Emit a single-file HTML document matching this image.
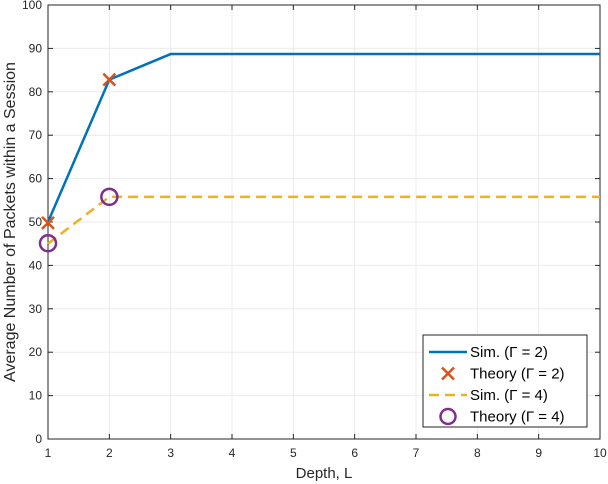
<!DOCTYPE html>
<html><head><style>
body{margin:0;background:#fff;}
svg{display:block;font-family:"Liberation Sans",sans-serif;}
</style></head><body>
<svg id="c" width="608" height="484">
<g id="grid"></g><g id="axes"></g><g id="series"></g><g id="legend"></g>
</svg>
<script>
const depths=[1,2,3,4,5,6,7,8,9,10];
const simG2=[50,82.8,88.7,88.7,88.7,88.7,88.7,88.7,88.7,88.7];
const simG4=[45,55.8,55.8,55.8,55.8,55.8,55.8,55.8,55.8,55.8];
const theoryX=[1,2];
const theoryG2=[49.8,82.8];
const theoryG4=[45.1,55.8];
const xTicks=[1,2,3,4,5,6,7,8,9,10];
const yTicks=[0,10,20,30,40,50,60,70,80,90,100];
const L=48,R=600,T=5,B=439;
const sx=v=>L+(v-1)*(R-L)/9;
const sy=v=>B-v*(B-T)/100;
const NS="http://www.w3.org/2000/svg";
function mk(p,t,a){const e=document.createElementNS(NS,t);for(const k in a)e.setAttribute(k,a[k]);p.appendChild(e);return e;}
const g=document.getElementById('grid'),ax=document.getElementById('axes'),s=document.getElementById('series'),lg=document.getElementById('legend');
xTicks.forEach(v=>{const l=mk(g,'line',{x1:sx(v),x2:sx(v),y1:T,y2:B,stroke:'#ebebeb'});

mk(ax,'line',{x1:sx(v),x2:sx(v),y1:B,y2:B-5,stroke:'#262626'});mk(ax,'line',{x1:sx(v),x2:sx(v),y1:T,y2:T+5,stroke:'#262626'});
const t=mk(ax,'text',{x:sx(v),y:B+18,'text-anchor':'middle','font-size':12,fill:'#262626'});t.textContent=v;
});
yTicks.forEach(v=>{const l=mk(g,'line',{x1:L,x2:R,y1:sy(v),y2:sy(v),stroke:'#ebebeb'});

mk(ax,'line',{x1:L,x2:L+5,y1:sy(v),y2:sy(v),stroke:'#262626'});mk(ax,'line',{x1:R,x2:R-5,y1:sy(v),y2:sy(v),stroke:'#262626'});
const t=mk(ax,'text',{x:L-6,y:sy(v)+4,'text-anchor':'end','font-size':12,fill:'#262626'});t.textContent=v;
});
mk(ax,'rect',{x:L,y:T,width:R-L,height:B-T,fill:'none',stroke:'#262626'});
const xt=mk(ax,'text',{x:(L+R)/2,y:478,'text-anchor':'middle','font-size':15,fill:'#262626'});xt.textContent='Depth, L';

const yt=mk(ax,'text',{x:0,y:0,transform:`translate(15,${(T+B)/2}) rotate(-90)`,'text-anchor':'middle','font-size':16,fill:'#262626'});yt.textContent='Average Number of Packets within a Session';

const p2=mk(s,'polyline',{points:depths.map((d,i)=>sx(d)+','+sy(simG2[i])).join(' '),fill:'none',stroke:'#0072bd','stroke-width':2.5});

const p4=mk(s,'polyline',{points:depths.map((d,i)=>sx(d)+','+sy(simG4[i])).join(' '),fill:'none',stroke:'#edb120','stroke-width':2.5,'stroke-dasharray':'10,6'});

function cross(p,x,y){const e=mk(p,'path',{d:`M${x-6},${y-6}L${x+6},${y+6}M${x-6},${y+6}L${x+6},${y-6}`,stroke:'#d95319','stroke-width':2.5});return e;}
theoryX.forEach((d,i)=>{const e=cross(s,sx(d),sy(theoryG2[i]));
const c=mk(s,'circle',{cx:sx(d),cy:sy(theoryG4[i]),r:8,fill:'none',stroke:'#7e2f8e','stroke-width':2.5});
});
const lr=mk(lg,'rect',{x:423,y:335,width:164,height:92,fill:'#fff',stroke:'#262626'});

const labels=['Sim. (Γ = 2)','Theory (Γ = 2)','Sim. (Γ = 4)','Theory (Γ = 4)'];
labels.forEach((lab,i)=>{const y=352+i*21.5;
if(i==0)mk(lg,'line',{x1:429,x2:467,y1:y,y2:y,stroke:'#0072bd','stroke-width':2.5});
if(i==1)cross(lg,448,y);
if(i==2)mk(lg,'line',{x1:429,x2:467,y1:y,y2:y,stroke:'#edb120','stroke-width':2.5,'stroke-dasharray':'10,6'});
if(i==3)mk(lg,'circle',{cx:448,cy:y,r:7.5,fill:'none',stroke:'#7e2f8e','stroke-width':2.5});
const t=mk(lg,'text',{x:470,y:y+5,'font-size':15,fill:'#000'});t.textContent=lab;
});
</script>
</body></html>
